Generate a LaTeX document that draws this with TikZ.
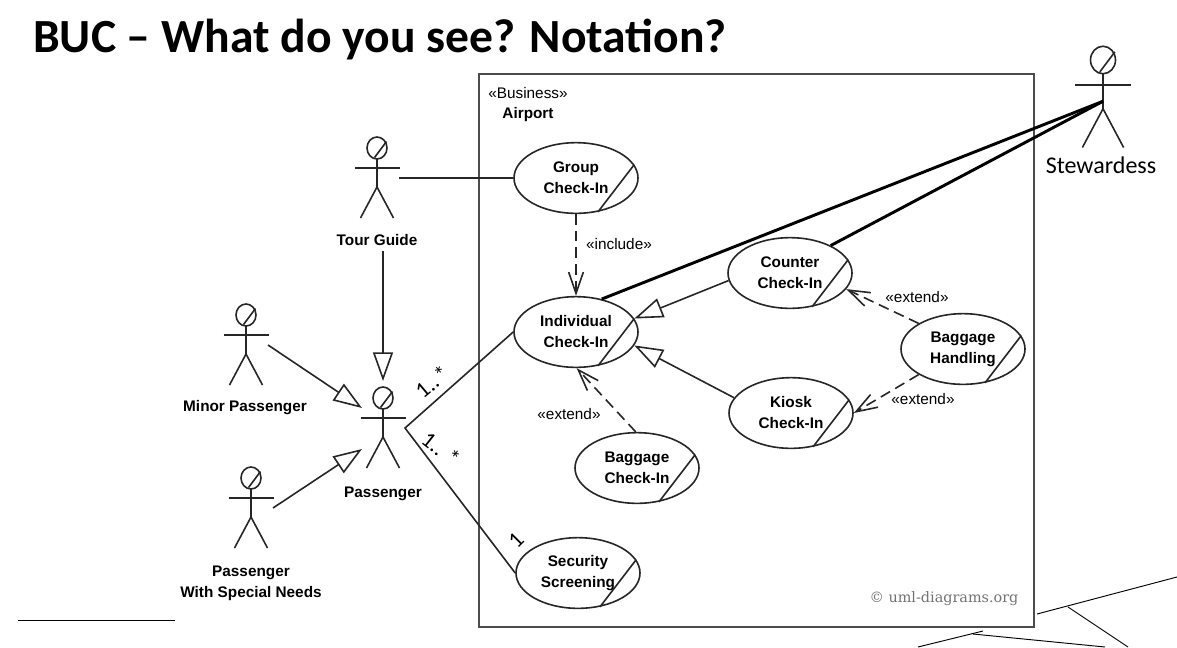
\documentclass[tikz,border=0pt]{standalone}
\usepackage{fontspec}
\setmainfont{Liberation Sans}
\newfontfamily\calibrifont{Carlito}
\newfontfamily\slabfont{DejaVu Serif}
\usetikzlibrary{arrows.meta, positioning, shapes.geometric}

\tikzset{
    line/.style = {draw=black!85, line width=1.2pt},
    usecase/.style = {ellipse, line, fill=white, minimum width=93pt, minimum height=53pt, inner sep=0pt, align=center, font=\fontsize{11.5}{15.75}\selectfont\bfseries},
    actorlabel/.style = {inner sep=4pt, align=center, font=\fontsize{11.5}{15.75}\selectfont\bfseries},
    stereo/.style = {inner sep=0pt, font=\fontsize{11.5}{14}\selectfont},
    multi/.style = {inner sep=0pt, font=\calibrifont\fontsize{17}{20}\selectfont},
    assoc/.style = {line},
    general/.style = {line, -{Triangle[open, length=21.5pt, width=15pt]}},
    depend/.style = {line, dash pattern=on 8pt off 4.5pt, -{Straight Barb[length=16pt, width=11pt]}},
    stew/.style = {draw=black, line width=2.2pt},
    edgeline/.style = {draw=black, line width=0.7pt},
    actor/.pic = {
        \draw[line] (0,0) ellipse (10 and 11);
        \draw[line] (9.5,-6.5) -- (-2.5,9.5);
        \draw[line] (-22.5,20) -- (22.5,20);
        \draw[line] (0,11) -- (0,39);
        \draw[line] (-16.5,70) -- (0,39) -- (16.5,70);
        \coordinate (-hand) at (22,30);
        \coordinate (-waist) at (0,33);
        \coordinate (-top) at (0,-17);
        \coordinate (-upper) at (-21,10);
        \coordinate (-lower) at (-21,51);
    },
}

\begin{document}
\begin{tikzpicture}[x=0.75pt, y=-0.75pt]
    \useasboundingbox (0,0) rectangle (1177,647);

    % Title
    \node[anchor=base west, inner sep=0pt, font=\calibrifont\bfseries\fontsize{35.7}{42}\selectfont] (title) at (33,52) {BUC – What do you see? Notation?};

    % System boundary
    \node[draw=black!70, line width=1.5pt, minimum width=416pt, minimum height=415pt, inner sep=0pt, anchor=north west] (airport) at (478,73) {};
    \node[stereo] (business) at (528,93) {«Business»};
    \node[stereo, font=\fontsize{11.5}{14}\selectfont\bfseries] (airportname) at (528,115) {Airport};
    \node[inner sep=0pt, text=black!55, font=\slabfont\fontsize{10.8}{13}\selectfont] (copyright) at (944,599) {© uml-diagrams.org};

    % Use cases
    \node[usecase] (group) at (576,178) {Group\\Check-In};
    \node[usecase] (individual) at (576,332) {Individual\\Check-In};
    \node[usecase] (counter) at (790,273) {Counter\\Check-In};
    \node[usecase] (kiosk) at (791,413) {Kiosk\\Check-In};
    \node[usecase] (handling) at (963,349) {Baggage\\Handling};
    \node[usecase] (baggage) at (637,468) {Baggage\\Check-In};
    \node[usecase] (security) at (578,573) {Security\\Screening};
    \foreach \u in {group, individual, counter, kiosk, handling, baggage, security}
        \draw[line] (\u.13) -- (\u.-57);

    % Actors
    \pic (guide) at (377,148) {actor};
    \pic (minor) at (246,315) {actor};
    \pic (passenger) at (383,398) {actor};
    \pic (special) at (251,478) {actor};
    \pic[scale=1.25] (stewardess) at (1103,60) {actor};
    \node[actorlabel] (guidelabel) at (377,240) {Tour Guide};
    \node[actorlabel] (minorlabel) at (245,408) {Minor Passenger};
    \node[actorlabel] (passengerlabel) at (383,494) {Passenger};
    \node[actorlabel] (speciallabel) at (251,583) {Passenger\\With Special Needs};
    \node[inner sep=0pt, font=\calibrifont\fontsize{18}{22}\selectfont] (stewardesslabel) at (1101,165) {Stewardess};

    % Actor generalizations and associations
    \draw[assoc] (guide-hand) -- (group);
    \draw[general] (guidelabel.south -| passenger-top) -- (passenger-top);
    \draw[general] (minor-hand) -- (passenger-upper);
    \draw[general] (special-hand) -- (passenger-lower);
    \draw[assoc] (individual.west) -- (passenger-hand) -- (security.west);
    \draw[stew] (stewardess-waist) -- (individual.52);
    \draw[stew] (stewardess-waist) -- (counter.34);

    % Use case relations
    \draw[general] (counter.187) -- (individual.13);
    \draw[general] (kiosk.165) -- (individual.-13);
    \draw[depend] (group) -- (individual);
    \draw[depend] (baggage.92) -- (individual.-89);
    \draw[depend] (handling.150) -- (counter.-16);
    \draw[depend] (handling.-150) -- (kiosk.east);

    % Labels
    \node[stereo] (includelabel) at (619,244) {«include»};
    \node[stereo] (extendtop) at (917,297) {«extend»};
    \node[stereo] (extendlow) at (923,399) {«extend»};
    \node[stereo] (extendleft) at (569,414) {«extend»};
    \node[multi, rotate=40] (multione) at (432,382) {1..\kern1.5pt*};
    \node[multi, rotate=-38] (multitwo) at (441,449) {1.. *};
    \node[multi, rotate=45] (multithree) at (516,540) {1};

    % Leftover strokes along the slide edge
    \draw[edgeline] (18,620) -- (175,620);
    \draw[edgeline] (1037,614) -- (1177,577);
    \draw[edgeline] (1068,607) -- (1128,647);
    \draw[edgeline] (973,634) -- (1105,647);
    \draw[edgeline] (918,647) -- (983,631);
\end{tikzpicture}
\end{document}
